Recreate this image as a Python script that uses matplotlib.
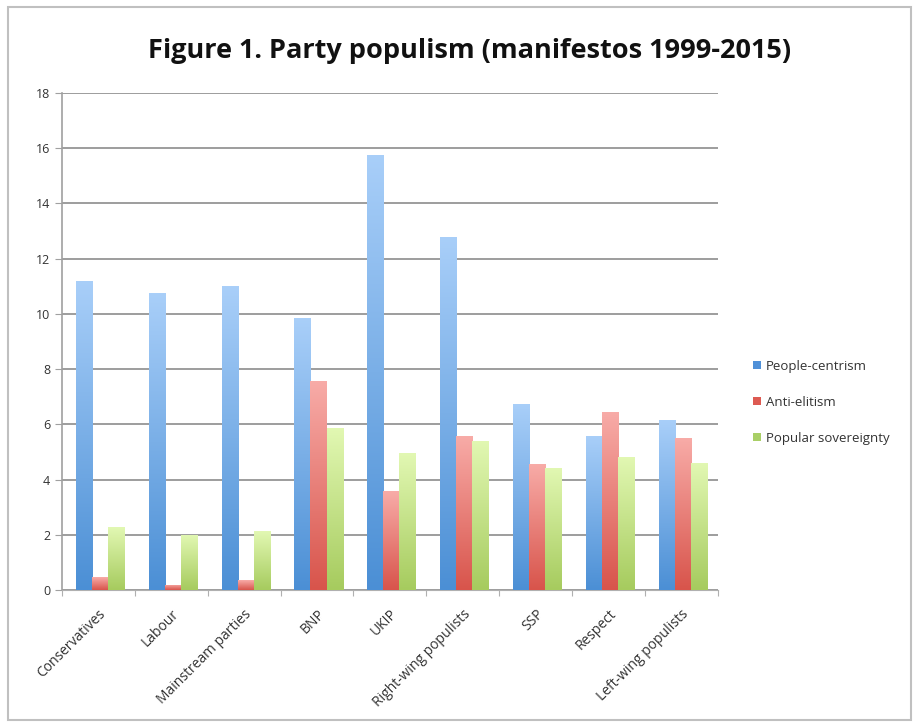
import numpy as np
import matplotlib
matplotlib.use("Agg")
import matplotlib.pyplot as plt
from matplotlib.colors import LinearSegmentedColormap
from matplotlib.patches import Rectangle

categories = ["Conservatives", "Labour", "Mainstream parties", "BNP", "UKIP",
              "Right-wing populists", "SSP", "Respect", "Left-wing populists"]
people_centrism = [11.2, 10.75, 11.0, 9.85, 15.76, 12.79, 6.74, 5.58, 6.16]
anti_elitism = [0.47, 0.2, 0.35, 7.57, 3.58, 5.58, 4.57, 6.45, 5.51]
popular_sovereignty = [2.28, 2.0, 2.13, 5.87, 4.96, 5.4, 4.42, 4.82, 4.6]
series_names = ["People-centrism", "Anti-elitism", "Popular sovereignty"]
yticks = [0, 2, 4, 6, 8, 10, 12, 14, 16, 18]

plt.rcParams['font.family'] = ['Open Sans', 'DejaVu Sans']

fig = plt.figure(figsize=(9.18, 7.27), dpi=100)
ax = fig.add_axes([0.0675, 0.1884, 0.7145, 0.6836])

grad = [("#a9cff9", "#4b8fd5"), ("#f8aca8", "#d8544b"), ("#e2f8b3", "#a6cb5e")]
legend_col = ["#4f90d8", "#dd5a52", "#a9cf66"]
data = [people_centrism, anti_elitism, popular_sovereignty]
x = np.arange(len(categories))
w = 0.22
ax.set_xlim(-0.5, len(categories) - 0.5)
ax.set_ylim(0, 18)

for i, (vals, (top, bot)) in enumerate(zip(data, grad)):
    bars = ax.bar(x + (i - 1) * w + 0.02, vals, width=w, color=legend_col[i],
                  label=series_names[i], zorder=2, linewidth=0)
    cmap = LinearSegmentedColormap.from_list("g%d" % i, [bot, top])
    g = np.linspace(0, 1, 256).reshape(-1, 1)
    for b in bars:
        x0, y0 = b.get_x(), b.get_y()
        x1, y1 = x0 + b.get_width(), y0 + b.get_height()
        im = ax.imshow(g, cmap=cmap, extent=[x0, x1, y0, y1], origin="lower",
                       aspect="auto", zorder=3, interpolation="bilinear")
        im.set_clip_path(b)

ax.set_xlim(-0.5, len(categories) - 0.5)
ax.set_ylim(0, 18)
ax.set_yticks(yticks)
ax.yaxis.grid(True, color="#8c8c8c", linewidth=1.2, zorder=1)
ax.set_axisbelow(True)
for s in ["top", "right"]:
    ax.spines[s].set_visible(False)
ax.spines["left"].set_color("#a0a0a0")
ax.spines["bottom"].set_color("#b0b0b0")
ax.spines["left"].set_linewidth(1.2)
ax.tick_params(axis="y", length=5, color="#a0a0a0", labelsize=9, labelcolor="#333333")
ax.set_xticks(np.arange(-0.5, len(categories)), minor=False)
ax.set_xticklabels([])
ax.set_xticks(x, minor=True)
ax.set_xticklabels(categories, minor=True, rotation=45, ha="right",
                   rotation_mode="anchor", fontsize=10, color="#333333")
ax.tick_params(axis="x", which="minor", length=0, pad=12)
ax.tick_params(axis="x", which="major", length=4, color="#b0b0b0")

fig.text(0.512, 0.93, "Figure 1. Party populism (manifestos 1999-2015)",
         ha="center", va="center", fontsize=19.5, fontweight="bold", color="#111111")

leg = ax.legend(loc="center left", bbox_to_anchor=(1.035, 0.378), frameon=False,
                fontsize=9.5, handlelength=0.6, handleheight=0.6,
                handletextpad=0.4, labelspacing=1.75)
for t in leg.get_texts():
    t.set_color("#333333")

fig.patches.append(Rectangle((0.009, 0.01), 0.983, 0.98, transform=fig.transFigure,
                             fill=False, edgecolor="#c0c0c0", linewidth=1.5))

fig.savefig("out.png", dpi=100)
